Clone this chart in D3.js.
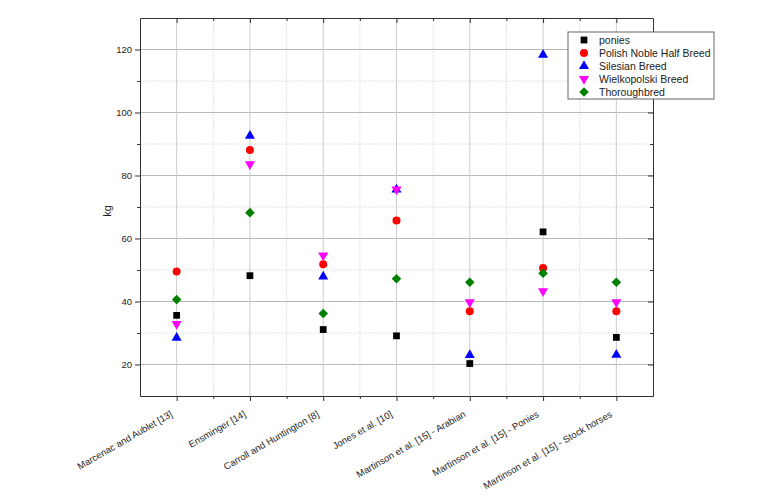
<!DOCTYPE html>
<html>
<head>
<meta charset="utf-8">
<script src="https://cdn.jsdelivr.net/npm/d3@7"></script>
<style>
  body { margin: 0; background: #fff; }
  svg text { font-family: "Liberation Sans", Arial, sans-serif; fill: #222; }
</style>
</head>
<body>
<svg id="chart"></svg>
<script>
const categories = [
    "Marcenac and Aublet [13]",
    "Ensminger [14]",
    "Carroll and Huntington [8]",
    "Jones et al. [10]",
    "Martinson et al. [15] - Arabian",
    "Martinson et al. [15] - Ponies",
    "Martinson et al. [15] - Stock horses"
];
const seriesNames = ["ponies", "Polish Noble Half Breed", "Silesian Breed", "Wielkopolski Breed", "Thoroughbred"];
const ponies = [35.6, 48.2, 31.1, 29.1, 20.3, 62.1, 28.6];
const polishNoble = [49.5, 88.1, 51.8, 65.7, 36.9, 50.6, 36.9];
const silesian = [28.5, 92.6, 47.9, 75.5, 23.0, 118.3, 23.1];
const wielkopolski = [32.9, 83.6, 54.6, 75.6, 39.8, 43.3, 39.8];
const thoroughbred = [40.6, 68.2, 36.2, 47.2, 46.1, 49.0, 46.1];
const yTicks = [20, 40, 60, 80, 100, 120];

const seriesValues = [ponies, polishNoble, silesian, wielkopolski, thoroughbred];
const seriesColors = ["#000000", "#ff0000", "#0000ff", "#ff00ff", "#008000"];
const seriesSymbols = [d3.symbolSquare, d3.symbolCircle, d3.symbolTriangle, d3.symbolTriangle, d3.symbolSquare];
const symbolSizes = [46, 50, 44, 44, 46];
const symbolRotate = [0, 0, 0, 180, 45];

const W = 761, H = 501;
const margin = { top: 18, right: 108, bottom: 105, left: 140 };
const width = W - margin.left - margin.right;
const height = H - margin.top - margin.bottom;

const root = d3.select("#chart").attr("width", W).attr("height", H);
const svg = root.append("g").attr("transform", `translate(${margin.left}, ${margin.top})`);

const xScale = d3.scaleLinear().domain([0.5, categories.length + 0.5]).range([0, width]);
const yScale = d3.scaleLinear().domain([10, 130]).range([height, 0]);

const majorX = d3.range(1, categories.length + 1);
const minorX = d3.range(0.5, categories.length + 1, 1).slice(1, -1);
const minorY = d3.range(30, 130, 20);

// grid lines
svg.append("g").selectAll("line").data(minorY).enter().append("line")
    .attr("x1", 0).attr("x2", width)
    .attr("y1", d => yScale(d)).attr("y2", d => yScale(d))
    .attr("stroke", "#e2e2e2").attr("stroke-width", 1).attr("stroke-dasharray", "2,1");
svg.append("g").selectAll("line").data(minorX).enter().append("line")
    .attr("x1", d => xScale(d)).attr("x2", d => xScale(d))
    .attr("y1", 0).attr("y2", height)
    .attr("stroke", "#e2e2e2").attr("stroke-width", 1).attr("stroke-dasharray", "2,1");
svg.append("g").selectAll("line").data(yTicks).enter().append("line")
    .attr("x1", 0).attr("x2", width)
    .attr("y1", d => yScale(d)).attr("y2", d => yScale(d))
    .attr("stroke", "#b8b8b8").attr("stroke-width", 1);
svg.append("g").selectAll("line").data(majorX).enter().append("line")
    .attr("x1", d => xScale(d)).attr("x2", d => xScale(d))
    .attr("y1", 0).attr("y2", height)
    .attr("stroke", "#cccccc").attr("stroke-width", 1);

// axes
function styleAxis(g) {
    g.select(".domain").attr("stroke", "#333");
    g.selectAll(".tick line").attr("stroke", "#333");
}
const yAxis = svg.append("g")
    .call(d3.axisLeft(yScale).tickValues(yTicks).tickSize(5).tickPadding(3).tickSizeOuter(0))
    .call(styleAxis);
yAxis.selectAll("text").style("font-size", "9.5px");
svg.append("g")
    .call(d3.axisLeft(yScale).tickValues(minorY).tickSize(3).tickFormat("").tickSizeOuter(0))
    .call(styleAxis).select(".domain").remove();

svg.append("g").attr("transform", `translate(${width},0)`)
    .call(d3.axisLeft(yScale).tickValues(yTicks).tickSize(5).tickFormat("").tickSizeOuter(0))
    .call(styleAxis);
svg.append("g").attr("transform", `translate(${width},0)`)
    .call(d3.axisLeft(yScale).tickValues(minorY).tickSize(3).tickFormat("").tickSizeOuter(0))
    .call(styleAxis).select(".domain").remove();

const xAxis = svg.append("g").attr("transform", `translate(0,${height})`)
    .call(d3.axisBottom(xScale).tickValues(majorX).tickSize(5).tickSizeOuter(0)
        .tickFormat(d => categories[d - 1]))
    .call(styleAxis);
xAxis.selectAll("text")
    .style("font-size", "9.5px")
    .attr("text-anchor", "end")
    .attr("x", 0).attr("y", 0).attr("dy", 0)
    .attr("transform", "translate(-4,20) rotate(-30)");
svg.append("g").attr("transform", `translate(0,${height})`)
    .call(d3.axisBottom(xScale).tickValues(minorX).tickSize(3).tickFormat("").tickSizeOuter(0))
    .call(styleAxis).select(".domain").remove();

svg.append("g")
    .call(d3.axisBottom(xScale).tickValues(majorX).tickSize(5).tickFormat("").tickSizeOuter(0))
    .call(styleAxis);
svg.append("g")
    .call(d3.axisBottom(xScale).tickValues(minorX).tickSize(3).tickFormat("").tickSizeOuter(0))
    .call(styleAxis).select(".domain").remove();

svg.append("text")
    .attr("transform", `translate(${-29},${height / 2 + 4}) rotate(-90)`)
    .attr("text-anchor", "middle")
    .style("font-size", "11px")
    .text("kg");

// markers
seriesValues.forEach((vals, si) => {
    const sym = d3.symbol().type(seriesSymbols[si]).size(symbolSizes[si]);
    svg.append("g").selectAll("path").data(vals).enter().append("path")
        .attr("d", sym)
        .attr("transform", (d, i) => `translate(${xScale(i + 1)},${yScale(d)}) rotate(${symbolRotate[si]})`)
        .attr("fill", seriesColors[si]);
});

// legend
const legend = root.append("g").attr("transform", "translate(568,32)");
legend.append("rect")
    .attr("width", 146).attr("height", 67)
    .attr("fill", "#fff").attr("stroke", "#666").attr("stroke-width", 1);
seriesNames.forEach((name, si) => {
    const gy = 8 + si * 13;
    const sym = d3.symbol().type(seriesSymbols[si]).size(symbolSizes[si]);
    legend.append("path")
        .attr("d", sym)
        .attr("transform", `translate(16,${gy}) rotate(${symbolRotate[si]})`)
        .attr("fill", seriesColors[si]);
    legend.append("text")
        .attr("x", 31).attr("y", gy + 4)
        .style("font-size", "10.5px")
        .text(name);
});
</script>
</body>
</html>
